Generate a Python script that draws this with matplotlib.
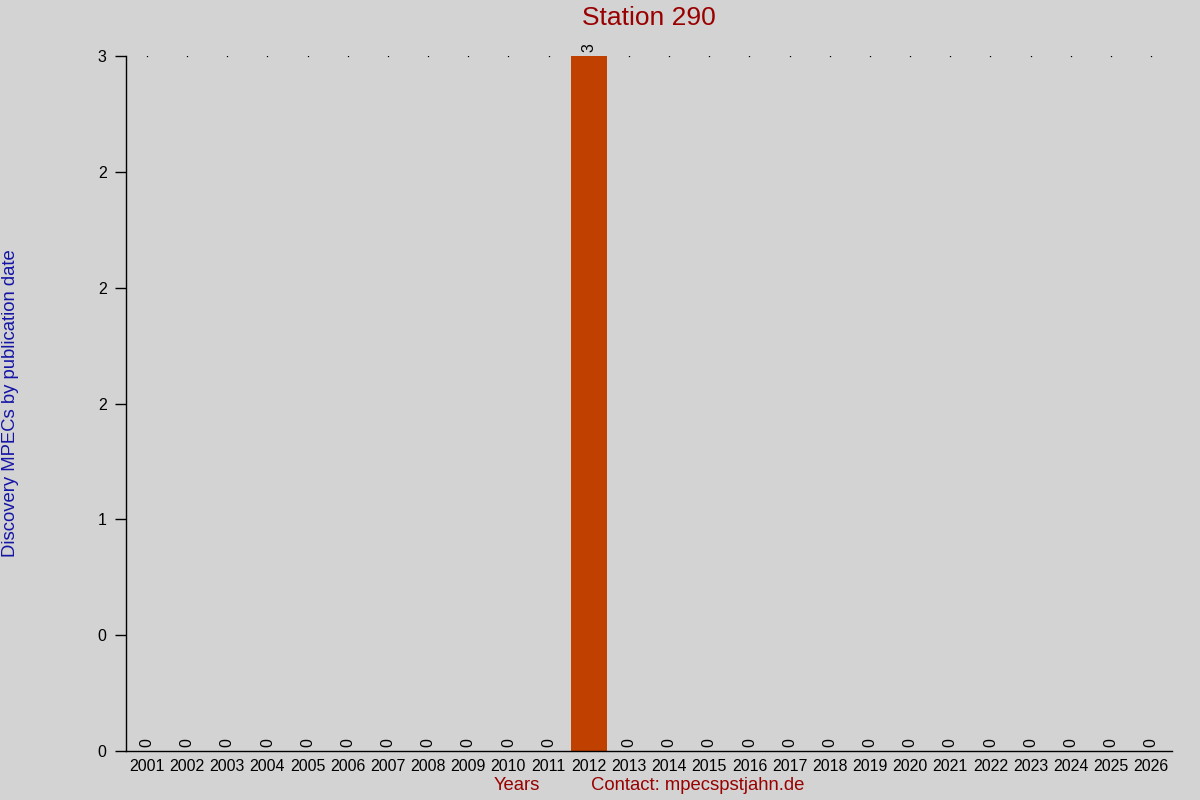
import numpy as np
import matplotlib
matplotlib.use("Agg")
import matplotlib.pyplot as plt

years = [str(y) for y in range(2001, 2027)]
counts = [0, 0, 0, 0, 0, 0, 0, 0, 0, 0, 0, 3, 0, 0, 0, 0, 0, 0, 0, 0, 0, 0, 0, 0, 0, 0]
y_ticks = [0, 0.5, 1, 1.5, 2, 2.5, 3]
y_tick_labels = ['0', '0', '1', '2', '2', '2', '3']

plt.rcParams['font.family'] = ['Liberation Sans', 'DejaVu Sans']

bg = '#d3d3d3'
fig = plt.figure(figsize=(12, 8), dpi=100, facecolor=bg)
ax = fig.add_axes([0.105, 0.06125, 0.8717, 0.86875], facecolor=bg)

x = np.arange(len(years))
# dotted guide line at the top value
ax.plot(x, [max(counts)] * len(x), linestyle='none', marker='s', markersize=0.9,
        markeredgewidth=0, color='black', zorder=1)
bars = ax.bar(x, counts, width=0.9, color='#c04000', zorder=2)

for xi, v in zip(x, counts):
    ax.annotate(str(v), (xi, v), xytext=(0, 3), textcoords='offset points',
                ha='center', va='bottom', rotation=90, fontsize=11.5, color='black')

ax.set_xlim(-0.52, len(years) - 0.48)
ax.set_ylim(0, 3)
ax.set_xticks(x)
ax.set_xticklabels(years, fontsize=11.5)
ax.set_yticks(y_ticks)
ax.set_yticklabels(y_tick_labels, fontsize=11.5)
ax.tick_params(axis='x', length=0, pad=6)
ax.tick_params(axis='y', length=8, width=1, direction='out', pad=6)

for side in ['top', 'right']:
    ax.spines[side].set_visible(False)
ax.spines['left'].set_linewidth(1)
ax.spines['bottom'].set_linewidth(1)

fig.text(649 / 1200, 1 - 18 / 800, 'Station 290', fontsize=19, color='#990000',
         ha='center', va='center')
fig.text(11 / 1200, 1 - 403 / 800, 'Discovery MPECs by publication date',
         fontsize=13.3, color='#1414a6', rotation=90, ha='center', va='center')

fig.text(517 / 1200, 1 - 786 / 800, 'Years', fontsize=13.3, color='#990000',
         ha='center', va='center')
fig.text(697.5 / 1200, 1 - 786 / 800, 'Contact: mpecspstjahn.de', fontsize=13.3,
         color='#990000', ha='center', va='center')

fig.savefig('out.png', dpi=100, facecolor=bg)
